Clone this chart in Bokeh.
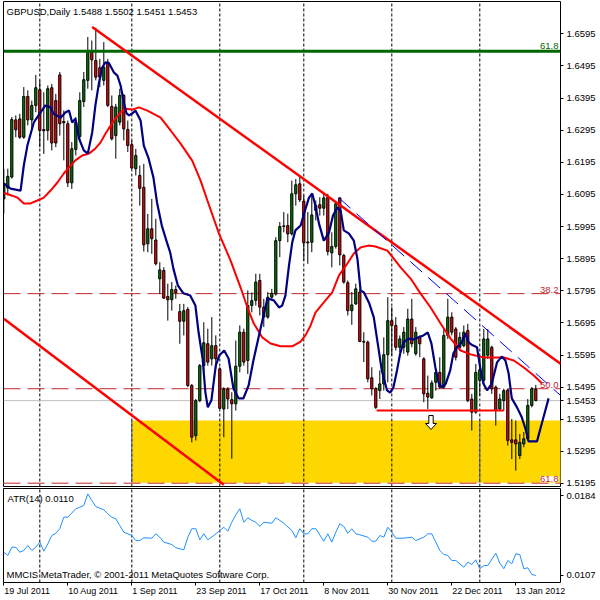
from bokeh.plotting import figure
from bokeh.layouts import column
from bokeh.models import Range1d, FixedTicker, Label, PrintfTickFormatter, ColumnDataSource, LinearAxis
from bokeh.embed import file_html
from bokeh.resources import INLINE

# ---------------- data ----------------
opens = [1.6081,1.6115,1.6149,1.6327,1.6330,1.6273,1.6400,1.6327,1.6372,1.6421,
         1.6297,1.6294,1.6427,1.6387,1.6467,1.6322,1.6315,1.6131,1.6235,1.6275,
         1.6384,1.6450,1.6540,1.6512,1.6489,1.6450,1.6507,1.6369,1.6278,1.6320,
         1.6403,1.6297,1.6250,1.6175,1.6154,1.6117,1.5941,1.5988,1.5953,1.5832,
         1.5858,1.5777,1.5767,1.5799,1.5730,1.5700,1.5737,1.5500,1.5344,1.5453,
         1.5562,1.5630,1.5583,1.5624,1.5552,1.5427,1.5489,1.5456,1.5443,1.5560,
         1.5666,1.5578,1.5749,1.5765,1.5827,1.5744,1.5713,1.5775,1.5785,1.5951,
         1.5995,1.5998,1.5972,1.6097,1.6128,1.6074,1.5944,1.5946,1.6045,1.6063,
         1.6052,1.6086,1.5913,1.5933,1.6084,1.5905,1.5820,1.5733,1.5754,1.5791,
         1.5637,1.5635,1.5524,1.5490,1.5484,1.5505,1.5596,1.5702,1.5687,1.5619,
         1.5619,1.5604,1.5707,1.5599,1.5650,1.5583,1.5476,1.5462,1.5510,1.5541,
         1.5495,1.5656,1.5713,1.5676,1.5619,1.5624,1.5671,1.5458,1.5417,1.5516,
         1.5516,1.5594,1.5619,1.5495,1.5427,1.5453,1.5486,1.5331,1.5331,1.5282,
         1.5318,1.5334,1.5438,1.5488]
highs = [1.6175,1.6175,1.6336,1.6341,1.6346,1.6429,1.6419,1.6387,1.6467,1.6450,
         1.6413,1.6434,1.6439,1.6408,1.6476,1.6356,1.6325,1.6258,1.6336,1.6413,
         1.6476,1.6585,1.6574,1.6614,1.6517,1.6569,1.6517,1.6403,1.6377,1.6424,
         1.6408,1.6325,1.6263,1.6237,1.6185,1.6190,1.6034,1.6081,1.6019,1.5884,
         1.5868,1.5817,1.5822,1.5811,1.5754,1.5754,1.5744,1.5505,1.5458,1.5567,
         1.5697,1.5677,1.5713,1.5656,1.5557,1.5495,1.5495,1.5479,1.5640,1.5687,
         1.5677,1.5796,1.5790,1.5848,1.5848,1.5770,1.5791,1.5801,1.5962,1.6009,
         1.6040,1.6035,1.6138,1.6143,1.6154,1.6092,1.6040,1.6092,1.6076,1.6086,
         1.6097,1.6097,1.5977,1.6071,1.6086,1.5910,1.5827,1.5791,1.5817,1.5801,
         1.5666,1.5640,1.5557,1.5495,1.5547,1.5650,1.5775,1.5744,1.5713,1.5656,
         1.5682,1.5739,1.5770,1.5682,1.5656,1.5588,1.5531,1.5516,1.5547,1.5588,
         1.5676,1.5770,1.5728,1.5682,1.5666,1.5687,1.5692,1.5474,1.5567,1.5588,
         1.5676,1.5676,1.5624,1.5500,1.5474,1.5490,1.5490,1.5396,1.5391,1.5349,
         1.5355,1.5458,1.5495,1.5502]
lows = [1.6035,1.6092,1.6144,1.6273,1.6268,1.6268,1.6310,1.6299,1.6351,1.6242,
        1.6221,1.6263,1.6232,1.6242,1.6278,1.6201,1.6118,1.6112,1.6216,1.6263,
        1.6367,1.6424,1.6419,1.6450,1.6429,1.6434,1.6367,1.6263,1.6206,1.6310,
        1.6263,1.6227,1.6175,1.6154,1.6060,1.5917,1.5915,1.5910,1.5874,1.5785,
        1.5770,1.5702,1.5733,1.5770,1.5630,1.5656,1.5495,1.5323,1.5329,1.5448,
        1.5541,1.5562,1.5562,1.5552,1.5427,1.5339,1.5427,1.5272,1.5422,1.5541,
        1.5562,1.5536,1.5728,1.5749,1.5718,1.5682,1.5708,1.5770,1.5780,1.5900,
        1.5977,1.5946,1.5967,1.6060,1.6071,1.5889,1.5879,1.5915,1.6014,1.6029,
        1.6029,1.5905,1.5868,1.5926,1.5874,1.5817,1.5718,1.5689,1.5751,1.5635,
        1.5573,1.5510,1.5469,1.5427,1.5458,1.5484,1.5510,1.5593,1.5609,1.5604,
        1.5599,1.5593,1.5619,1.5593,1.5588,1.5448,1.5427,1.5458,1.5484,1.5490,
        1.5490,1.5645,1.5656,1.5578,1.5609,1.5619,1.5448,1.5360,1.5412,1.5469,
        1.5505,1.5583,1.5474,1.5375,1.5422,1.5422,1.5313,1.5271,1.5235,1.5271,
        1.5308,1.5329,1.5432,1.5451]
closes = [1.6123,1.6151,1.6328,1.6296,1.6273,1.6400,1.6327,1.6372,1.6427,1.6294,
          1.6293,1.6424,1.6255,1.6255,1.6315,1.6318,1.6131,1.6237,1.6320,1.6387,
          1.6452,1.6540,1.6514,1.6460,1.6460,1.6491,1.6372,1.6268,1.6367,1.6403,
          1.6299,1.6247,1.6177,1.6216,1.6114,1.5938,1.5988,1.5957,1.5879,1.5860,
          1.5772,1.5767,1.5799,1.5789,1.5700,1.5733,1.5500,1.5339,1.5453,1.5562,
          1.5633,1.5573,1.5624,1.5583,1.5429,1.5489,1.5458,1.5443,1.5560,1.5666,
          1.5573,1.5749,1.5764,1.5822,1.5744,1.5713,1.5775,1.5787,1.5951,1.5995,
          1.5997,1.5972,1.6097,1.6125,1.6078,1.5944,1.5947,1.6031,1.6060,1.6052,
          1.6084,1.5917,1.5933,1.6066,1.5907,1.5822,1.5733,1.5751,1.5801,1.5637,
          1.5635,1.5521,1.5490,1.5432,1.5505,1.5596,1.5702,1.5687,1.5619,1.5645,
          1.5666,1.5707,1.5630,1.5666,1.5630,1.5474,1.5464,1.5508,1.5541,1.5495,
          1.5656,1.5713,1.5666,1.5588,1.5650,1.5666,1.5453,1.5417,1.5541,1.5549,
          1.5645,1.5645,1.5490,1.5422,1.5458,1.5484,1.5329,1.5323,1.5318,1.5323,
          1.5334,1.5438,1.5490,1.5453]

ma_fast_bar = [0,1.7,4.2,5,5.9,7.5,9.2,10.4,11.7,12.4,
               14.2,15.4,16.3,17.1,17.9,18.8,20,21,22.1,22.9,
               23.8,24.6,25.4,26.3,27.5,28.4,29.2,30,30.7,31.3,
               32.1,32.9,34.2,35,36.2,37.4,38.3,39.5,40.8,41.6,
               42.4,43.5,44.9,46.6,47.9,48.7,49.7,50.4,51,51.9,
               53,53.9,55.1,56.2,57.4,58.7,59.9,61.2,62.4,64.2,
               65.9,67.5,68.8,69.6,70.4,71.3,72.1,72.9,74.2,75.3,
               76.3,77.1,77.9,78.8,80,81.3,82.3,83.4,84.2,85,
               86.3,87.5,88.4,89.2,90,91.3,92.5,93.3,94.5,95.8,
               96.6,97.4,98.3,99.1,99.9,101.2,102.4,103.7,104.9,106,
               106.9,107.9,108.7,109.5,110.5,111.6,112.4,113.3,114.5,115.4,
               116.2,117.2,118.3,119.1,119.9,120.8,122,123.3,124.5,125.4,
               126.2,127,128.3,129.5,130.4,131.2,133.3,134.5,136.2]
ma_fast_val = [1.6129,1.6113,1.6107,1.6185,1.6247,1.6319,1.6350,1.6372,1.6366,1.6347,
               1.6334,1.6350,1.6356,1.6319,1.6331,1.6269,1.6232,1.6222,1.6288,1.6372,
               1.6443,1.6490,1.6506,1.6503,1.6475,1.6465,1.6434,1.6381,1.6347,1.6341,
               1.6347,1.6356,1.6325,1.6247,1.6207,1.6148,1.6070,1.5998,1.5945,1.5914,
               1.5864,1.5812,1.5787,1.5780,1.5749,1.5665,1.5584,1.5478,1.5432,1.5454,
               1.5563,1.5594,1.5609,1.5584,1.5491,1.5460,1.5460,1.5500,1.5578,1.5678,
               1.5771,1.5765,1.5743,1.5749,1.5780,1.5874,1.5945,1.5983,1.5998,1.6045,
               1.6085,1.6098,1.6060,1.6004,1.5951,1.5976,1.6029,1.6054,1.6045,1.5983,
               1.5973,1.5951,1.5895,1.5796,1.5790,1.5758,1.5712,1.5646,1.5547,1.5485,
               1.5478,1.5494,1.5547,1.5600,1.5634,1.5646,1.5643,1.5650,1.5656,1.5665,
               1.5631,1.5556,1.5509,1.5494,1.5506,1.5547,1.5600,1.5619,1.5634,1.5662,
               1.5634,1.5625,1.5619,1.5556,1.5506,1.5485,1.5506,1.5572,1.5590,1.5578,
               1.5538,1.5460,1.5432,1.5401,1.5366,1.5326,1.5326,1.5382,1.5460]

ma_slow_bar = [0,2.1,3.4,5,6.7,8.4,10,11.7,13.4,15,
               16.3,17.9,19.6,21.3,22.9,24.2,25.4,26.7,27.9,29.2,
               30.4,32.1,33.8,35.9,39.2,41.7,44.2,47.1,49.2,50.9,
               53.8,56.7,59.2,60.9,62.5,64.6,66.7,69.2,72.1,74.2,
               75.4,76.7,77.9,80,82.1,83.8,85.9,87.5,89.2,91.3,
               92.9,95.9,97.5,99.2,101.7,104.2,106.7,109.2,111.7,114.2,
               116.7,120,122.5,125,127.5,130,132.5,134.6]
ma_slow_val = [1.6100,1.6091,1.6085,1.6067,1.6067,1.6076,1.6085,1.6107,1.6132,1.6160,
               1.6179,1.6201,1.6216,1.6222,1.6238,1.6257,1.6284,1.6309,1.6331,1.6350,
               1.6362,1.6359,1.6366,1.6356,1.6334,1.6294,1.6253,1.6200,1.6138,1.6076,
               1.5973,1.5889,1.5805,1.5743,1.5693,1.5650,1.5631,1.5622,1.5622,1.5637,
               1.5656,1.5687,1.5727,1.5759,1.5790,1.5843,1.5880,1.5911,1.5930,1.5936,
               1.5933,1.5920,1.5895,1.5868,1.5833,1.5786,1.5743,1.5693,1.5646,1.5609,
               1.5597,1.5587,1.5587,1.5587,1.5578,1.5556,1.5531,1.5506]

atr_bar = [0,1,2,3,4,5,6,7,8,9,10,11,12,13,14,15,16,18,19,20,21,22,23,25,26,27,28,29,30,
           32,33,34,35,37,38,39,40,42,43,45,46,47,48,49,50,51,52.5,54,55,56,57,58,59,60,
           61,62,63,64,65,67,68,69,70,72,73,74,75,76,77,78,80,81,82,83,84,85,86,87,88,89,
           91,92,93,94,95,96,97,98,100,102,103,105,106,107,109,110,111,112,113,115,116,
           117,118,119,120,121,123,124,125,126,127,128,129,130,131,132,133]
atr_val = [0.01294,0.01263,0.01342,0.01342,0.01294,0.01311,0.01359,0.01311,0.01342,0.01391,
           0.01304,0.01375,0.01455,0.01477,0.01520,0.01631,0.01631,0.01712,0.01727,0.01744,
           0.01856,0.01792,0.01734,0.01702,0.01664,0.01631,0.01616,0.01551,0.01487,0.01455,
           0.01407,0.01407,0.01433,0.01429,0.01471,0.01439,0.01391,0.01368,0.01337,0.01317,
           0.01439,0.01520,0.01520,0.01414,0.01471,0.01414,0.01455,0.01503,0.01535,0.01496,
           0.01583,0.01654,0.01712,0.01583,0.01625,0.01600,0.01583,0.01542,0.01583,0.01573,
           0.01625,0.01600,0.01573,0.01503,0.01433,0.01520,0.01471,0.01471,0.01520,0.01520,
           0.01400,0.01471,0.01391,0.01487,0.01568,0.01542,0.01477,0.01520,0.01471,0.01462,
           0.01439,0.01400,0.01400,0.01455,0.01439,0.01535,0.01487,0.01429,0.01429,0.01439,
           0.01407,0.01439,0.01471,0.01471,0.01311,0.01272,0.01263,0.01214,0.01214,0.01150,
           0.01198,0.01176,0.01221,0.01135,0.01166,0.01166,0.01285,0.01188,0.01135,0.01214,
           0.01183,0.01279,0.01272,0.01135,0.01144,0.01080,0.01070]

price_ticks = [1.5195, 1.5295, 1.5395, 1.5453, 1.5495, 1.5595, 1.5695, 1.5795, 1.5895,
               1.5995, 1.6095, 1.6195, 1.6295, 1.6395, 1.6495, 1.6595]
atr_ticks = [0.0107, 0.0184]
date_tick_bars = [0, 16, 32, 48, 64, 80, 96, 112, 128]
date_tick_labels = ["19 Jul 2011", "10 Aug 2011", "1 Sep 2011", "23 Sep 2011", "17 Oct 2011",
                    "8 Nov 2011", "30 Nov 2011", "22 Dec 2011", "13 Jan 2012"]
month_start_bars = [9, 32, 54, 75, 97, 119]
blue_marker_bars = [32, 119]

fib_levels = [1.5786, 1.5490, 1.5196]
fib_names = ["38.2", "50.0", "61.8"]
green_level = 1.6541
green_name = "61.8"
last_price = 1.5453

trend_upper_bars = [22.1, 139.2]
trend_upper_prices = [1.6616, 1.5568]
trend_lower_bars = [0, 55]
trend_lower_prices = [1.5708, 1.5191]
trend_blue_bars = [83.7, 139.2]
trend_blue_prices = [1.6085, 1.5469]
support_bars = [93.2, 125.0]
support_price = 1.5422
zone_bars = [32, 150]
zone_prices = [1.5195, 1.5391]
arrow_tip_bar = 106.8
arrow_tip_price = 1.5363

header_text = "GBPUSD,Daily  1.5488 1.5502 1.5451 1.5453"
atr_text = "ATR(14) 0.0110"
copyright_text = "MMCIS MetaTrader, \u00a9 2001-2011 MetaQuotes Software Corp."

# ---------------- layout constants ----------------
X_START, X_END = -0.075, 139.175
Y_BOT, Y_TOP = 1.51856, 1.669556
A_BOT, A_TOP = 0.010026, 0.019074
PX_BAR = 4.0
PX_PRICE = 3212.0
FONT = "Liberation Sans"
FS = "9.5px"
DATE_FS = 9.0
BULL = "#008000"
BEAR = "#ff0000"
FIBC = "#c0282d"

# approximate glyph advance widths (em) of Liberation Sans, used to left-align date labels
_W = {" ": 0.278, "J": 0.5, "A": 0.667, "S": 0.667, "O": 0.778, "N": 0.722, "D": 0.722,
      "u": 0.556, "l": 0.222, "g": 0.556, "e": 0.556, "p": 0.556, "c": 0.5, "t": 0.278,
      "o": 0.556, "v": 0.5, "a": 0.556, "n": 0.556}

def text_px(s, size):
    return sum(_W.get(ch, 0.556) for ch in s) * size

def style_axis(ax):
    ax.axis_line_color = None
    ax.major_tick_in = 0
    ax.major_tick_out = 3
    ax.minor_tick_line_color = None
    ax.major_tick_line_color = "black"
    ax.major_label_standoff = 3
    ax.major_label_text_font = FONT
    ax.major_label_text_font_size = FS
    ax.major_label_text_color = "black"

# ---------------- main price panel ----------------
p1 = figure(width=600, height=488, x_range=Range1d(X_START, X_END), y_range=Range1d(Y_BOT, Y_TOP),
            x_axis_location=None, y_axis_location="right", toolbar_location=None,
            output_backend="svg", min_border_left=3, min_border_top=1, min_border_bottom=2,
            min_border_right=40, outline_line_color="black", outline_line_width=1,
            background_fill_color="white", border_fill_color="white")
p1.xgrid.visible = False
p1.ygrid.visible = False
ya = p1.yaxis[0]
ya.ticker = FixedTicker(ticks=price_ticks)
ya.formatter = PrintfTickFormatter(format="%.4f")
style_axis(ya)

# yellow zone
p1.quad(left=[zone_bars[0]], right=[zone_bars[1]], bottom=[zone_prices[0]], top=[zone_prices[1]],
        fill_color="#ffd700", line_color=None)
# month separators
p1.segment(x0=month_start_bars, x1=month_start_bars, y0=[Y_BOT] * len(month_start_bars),
           y1=[Y_TOP] * len(month_start_bars), line_color="black", line_dash="3 2", line_width=1)
p1.segment(x0=blue_marker_bars, x1=blue_marker_bars, y0=[zone_prices[0]] * 2, y1=[zone_prices[1]] * 2,
           line_color="#2040ff", line_dash="3 2", line_width=1)
# fib levels
p1.segment(x0=[X_START], x1=[X_END], y0=[fib_levels[2]], y1=[fib_levels[2]], line_color="white", line_width=1)
p1.segment(x0=[X_START] * 3, x1=[X_END] * 3, y0=fib_levels, y1=fib_levels,
           line_color=FIBC, line_dash="17 7", line_width=1)
# current price line
p1.segment(x0=[X_START], x1=[X_END], y0=[last_price], y1=[last_price], line_color="#c0c0c0", line_width=1)

# candles
bars = list(range(len(opens)))
src = ColumnDataSource(dict(
    x=bars, h=highs, l=lows,
    top=[max(o, c) for o, c in zip(opens, closes)],
    bot=[min(o, c) for o, c in zip(opens, closes)],
    col=[BULL if c >= o else BEAR for o, c in zip(opens, closes)],
))
p1.segment(x0="x", x1="x", y0="l", y1="h", source=src, line_color="black", line_width=1)
p1.vbar(x="x", width=0.55, top="top", bottom="bot", fill_color="col", line_color="black",
        line_width=1, source=src)

# green level
p1.segment(x0=[X_START], x1=[X_END], y0=[green_level], y1=[green_level], line_color="#006600", line_width=3)

# moving averages
p1.line(ma_slow_bar, ma_slow_val, line_color="#ff0000", line_width=2)
p1.line(ma_fast_bar, ma_fast_val, line_color="#000080", line_width=2.2)

# trend lines
p1.line(trend_upper_bars, trend_upper_prices, line_color="#ff0000", line_width=2.5)
p1.line(trend_lower_bars, trend_lower_prices, line_color="#ff0000", line_width=2.5)
p1.line(trend_blue_bars, trend_blue_prices, line_color="#0000ff", line_width=1, line_dash="16 8")
p1.line(support_bars, [support_price, support_price], line_color="#ff0000", line_width=2)

# down arrow
shape = [(-2.2, -14), (2.2, -14), (2.2, -6), (5.5, -6), (0, 0), (-5.5, -6), (-2.2, -6)]
p1.patch([arrow_tip_bar + dx / PX_BAR for dx, dy in shape],
         [arrow_tip_price - dy / PX_PRICE for dx, dy in shape],
         fill_color="white", line_color="black", line_width=1)

# texts in the main panel
p1.add_layout(Label(x=X_START, y=Y_TOP, x_offset=3, y_offset=-4, text=header_text, text_font=FONT,
                    text_font_size=FS, text_baseline="top", text_align="left", text_color="black"))
p1.add_layout(Label(x=X_END, y=green_level, x_offset=-2, y_offset=2, text=green_name, text_font=FONT,
                    text_font_size=FS, text_baseline="bottom", text_align="right", text_color="#006600"))
for lvl, name in zip(fib_levels, fib_names):
    kw = dict(background_fill_color="white") if name == "61.8" else {}
    p1.add_layout(Label(x=X_END, y=lvl, x_offset=-2, y_offset=1, text=name, text_font=FONT,
                        text_font_size=FS, text_baseline="bottom", text_align="right",
                        text_color=FIBC, **kw))

# ---------------- ATR panel ----------------
p2 = figure(width=600, height=112, x_range=p1.x_range, y_range=Range1d(A_BOT, A_TOP),
            x_axis_location="below", y_axis_location="right", toolbar_location=None,
            output_backend="svg", min_border_left=3, min_border_top=0, min_border_bottom=18,
            min_border_right=40, outline_line_color="black", outline_line_width=1,
            background_fill_color="white", border_fill_color="white")
p2.xgrid.visible = False
p2.ygrid.visible = False
ay = p2.yaxis[0]
ay.ticker = FixedTicker(ticks=atr_ticks)
ay.formatter = PrintfTickFormatter(format="%.4f")
style_axis(ay)

# tick marks at the true date positions (no labels)
ax = p2.xaxis[0]
ax.ticker = FixedTicker(ticks=date_tick_bars)
style_axis(ax)
ax.major_label_overrides = {b: "" for b in date_tick_bars}
ax.major_label_standoff = 0
ax.major_label_text_font_size = "1px"

# date labels: left edge of each label sits on its tick
centers = [round(b + text_px(t, DATE_FS) / 2.0 / PX_BAR, 3) for b, t in zip(date_tick_bars, date_tick_labels)]
axb = LinearAxis(ticker=FixedTicker(ticks=centers),
                 major_label_overrides={c: t for c, t in zip(centers, date_tick_labels)},
                 major_tick_in=0, major_tick_out=0, minor_tick_line_color=None,
                 axis_line_color=None, major_label_standoff=0, major_label_text_font=FONT,
                 major_label_text_font_size="%gpx" % DATE_FS, major_label_text_color="black")
p2.add_layout(axb, "below")

p2.segment(x0=month_start_bars, x1=month_start_bars, y0=[A_BOT] * len(month_start_bars),
           y1=[A_TOP] * len(month_start_bars), line_color="black", line_dash="3 2", line_width=1)
p2.line(atr_bar, atr_val, line_color="#1e90ff", line_width=1)

p2.add_layout(Label(x=X_START, y=A_TOP, x_offset=4, y_offset=-4, text=atr_text, text_font=FONT,
                    text_font_size=FS, text_baseline="top", text_align="left", text_color="black"))
p2.add_layout(Label(x=X_START, y=A_BOT, x_offset=3, y_offset=3, text=copyright_text, text_font=FONT,
                    text_font_size=FS, text_baseline="bottom", text_align="left", text_color="black"))

layout = column(p1, p2, spacing=0)
open("out.html", "w").write(file_html(layout, INLINE))
